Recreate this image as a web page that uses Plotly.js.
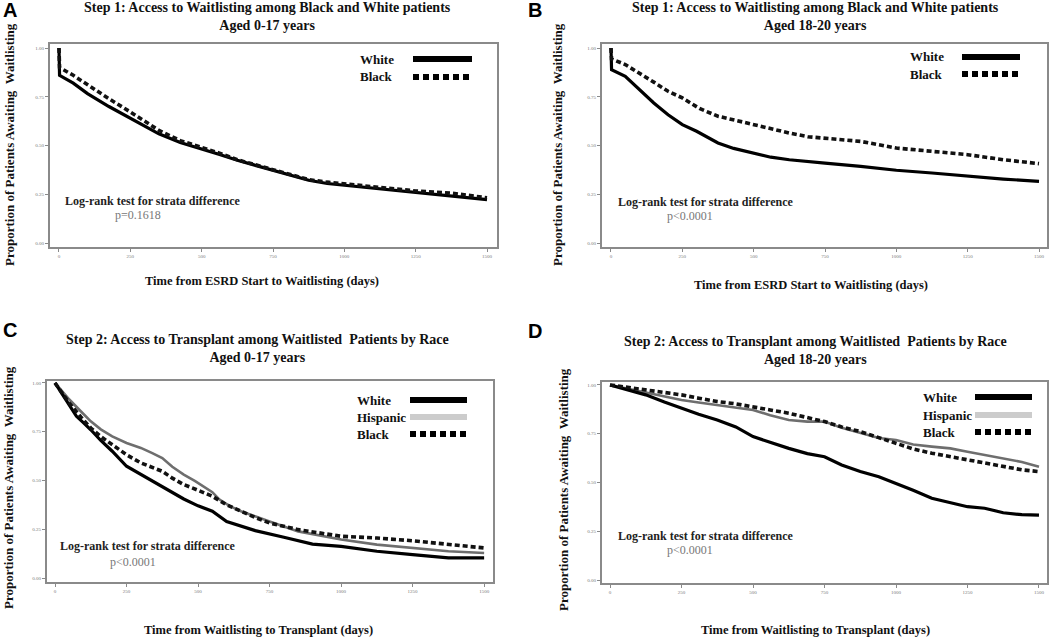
<!DOCTYPE html>
<html>
<head>
<meta charset="utf-8">
<script src="https://cdn.plot.ly/plotly-3.0.1.min.js"></script>
<style>html,body{margin:0;padding:0;background:#fff;}#chart{width:1050px;height:639px;}</style>
</head>
<body>
<div id="chart"></div>
<script>
// ---------- DATA ----------
// Panel A: Step 1, aged 0-17
const daysA_white = [0, 2, 50, 100, 175, 250, 300, 350, 425, 500, 560, 625, 690, 750, 815, 875, 940, 1000, 1125, 1250, 1375, 1440, 1500];
const survA_white = [1.0, 0.86, 0.82, 0.766, 0.70, 0.638, 0.598, 0.56, 0.515, 0.484, 0.455, 0.424, 0.398, 0.373, 0.345, 0.322, 0.305, 0.296, 0.279, 0.262, 0.244, 0.232, 0.222];
const daysA_black = [0, 2, 50, 100, 175, 250, 300, 350, 425, 500, 560, 625, 690, 750, 815, 875, 940, 1000, 1125, 1250, 1375, 1440, 1500];
const survA_black = [1.0, 0.90, 0.86, 0.81, 0.74, 0.672, 0.625, 0.578, 0.525, 0.492, 0.462, 0.427, 0.40, 0.373, 0.347, 0.325, 0.312, 0.304, 0.285, 0.267, 0.256, 0.245, 0.232];

// Panel B: Step 1, aged 18-20
const daysB_white = [0, 2, 50, 100, 150, 200, 250, 300, 340, 375, 430, 500, 560, 625, 690, 750, 875, 1000, 1125, 1250, 1375, 1500];
const survB_white = [1.0, 0.889, 0.855, 0.786, 0.718, 0.658, 0.607, 0.573, 0.54, 0.513, 0.485, 0.462, 0.44, 0.427, 0.417, 0.41, 0.393, 0.373, 0.359, 0.342, 0.328, 0.316];
const daysB_black = [0, 2, 50, 100, 150, 200, 250, 310, 375, 440, 500, 560, 625, 690, 750, 875, 1000, 1125, 1250, 1375, 1500];
const survB_black = [1.0, 0.944, 0.915, 0.872, 0.825, 0.778, 0.744, 0.69, 0.65, 0.628, 0.607, 0.585, 0.564, 0.545, 0.538, 0.521, 0.487, 0.47, 0.453, 0.427, 0.407];

// Panel C: Step 2, aged 0-17
const daysC_white = [0, 25, 50, 75, 100, 125, 160, 200, 250, 300, 375, 450, 500, 550, 600, 650, 700, 800, 900, 1000, 1125, 1250, 1375, 1500];
const survC_white = [1.0, 0.945, 0.889, 0.829, 0.795, 0.76, 0.705, 0.65, 0.573, 0.53, 0.47, 0.405, 0.37, 0.342, 0.29, 0.265, 0.243, 0.209, 0.174, 0.162, 0.137, 0.12, 0.103, 0.103];
const daysC_hisp = [0, 25, 50, 90, 125, 160, 200, 250, 300, 340, 375, 410, 450, 490, 525, 550, 575, 610, 650, 700, 750, 850, 1000, 1125, 1250, 1375, 1500];
const survC_hisp = [1.0, 0.955, 0.915, 0.855, 0.803, 0.762, 0.726, 0.692, 0.667, 0.64, 0.615, 0.57, 0.53, 0.497, 0.462, 0.44, 0.402, 0.37, 0.342, 0.315, 0.29, 0.239, 0.197, 0.171, 0.154, 0.137, 0.128];
const daysC_black = [0, 25, 50, 90, 125, 160, 200, 250, 300, 340, 375, 410, 450, 500, 550, 600, 650, 700, 750, 850, 1000, 1125, 1250, 1375, 1500];
const survC_black = [1.0, 0.95, 0.897, 0.826, 0.769, 0.725, 0.684, 0.632, 0.59, 0.566, 0.547, 0.512, 0.479, 0.45, 0.419, 0.375, 0.34, 0.31, 0.282, 0.248, 0.214, 0.205, 0.191, 0.171, 0.154];

// Panel D: Step 2, aged 18-20
const daysD = [0, 60, 125, 190, 250, 310, 375, 440, 500, 560, 625, 690, 750, 810, 875, 940, 1000, 1060, 1125, 1190, 1250, 1310, 1375, 1440, 1500];
const survD_white = [1.0, 0.975, 0.949, 0.912, 0.88, 0.85, 0.82, 0.785, 0.735, 0.705, 0.675, 0.648, 0.632, 0.59, 0.556, 0.53, 0.496, 0.46, 0.419, 0.395, 0.376, 0.368, 0.345, 0.335, 0.333];
const survD_hisp  = [1.0, 0.982, 0.962, 0.94, 0.923, 0.91, 0.897, 0.885, 0.872, 0.845, 0.82, 0.812, 0.812, 0.78, 0.752, 0.728, 0.718, 0.695, 0.684, 0.675, 0.658, 0.642, 0.624, 0.605, 0.581];
const survD_black = [1.0, 0.988, 0.974, 0.962, 0.949, 0.932, 0.915, 0.903, 0.889, 0.872, 0.855, 0.835, 0.812, 0.785, 0.761, 0.73, 0.701, 0.672, 0.65, 0.632, 0.615, 0.598, 0.581, 0.565, 0.556];

const xTicks = [0, 250, 500, 750, 1000, 1250, 1500];
const yTicks = [0, 0.25, 0.5, 0.75, 1.0];
const yTickText = ['0.00', '0.25', '0.50', '0.75', '1.00'];

const panelTitles = [
  'Step 1: Access to Waitlisting among Black and White patients<br>Aged 0-17 years',
  'Step 1: Access to Waitlisting among Black and White patients<br>Aged 18-20 years',
  'Step 2: Access to Transplant among Waitlisted  Patients by Race<br>Aged 0-17 years',
  'Step 2: Access to Transplant among Waitlisted  Patients by Race<br>Aged 18-20 years'
];
const xTitles = ['Time from ESRD Start to Waitlisting (days)', 'Time from ESRD Start to Waitlisting (days)',
                 'Time from Waitlisting to Transplant (days)', 'Time from Waitlisting to Transplant (days)'];
const yTitle = 'Proportion of Patients Awaiting  Waitlisting';
const pValues = ['p=0.1618', 'p<0.0001', 'p<0.0001', 'p<0.0001'];
const panelLetters = ['A', 'B', 'C', 'D'];

// ---------- STYLE ----------
const W = 1050, H = 639;
const px = v => v / W;
const py = v => 1 - v / H;
const SERIF = "'Liberation Serif', 'DejaVu Serif', serif";
const solidLine = {color: '#000', width: 3.2};
const dashLine = {color: '#111', width: 3.6, dash: '5px,3px'};
const hispLine = {color: '#6e6e6e', width: 2.6};

function tr(x, y, line, ax, name) {
  return {x: x, y: y, type: 'scatter', mode: 'lines', line: line, xaxis: 'x' + ax, yaxis: 'y' + ax,
          name: name, showlegend: false, hoverinfo: 'x+y+name'};
}
const data = [
  tr(daysA_white, survA_white, solidLine, '', 'White'),
  tr(daysA_black, survA_black, dashLine, '', 'Black'),
  tr(daysB_white, survB_white, solidLine, '2', 'White'),
  tr(daysB_black, survB_black, dashLine, '2', 'Black'),
  tr(daysC_hisp, survC_hisp, hispLine, '3', 'Hispanic'),
  tr(daysC_white, survC_white, solidLine, '3', 'White'),
  tr(daysC_black, survC_black, dashLine, '3', 'Black'),
  tr(daysD, survD_hisp, hispLine, '4', 'Hispanic'),
  tr(daysD, survD_white, solidLine, '4', 'White'),
  tr(daysD, survD_black, dashLine, '4', 'Black')
];

const frames = [
  {l: 50, r: 497, t: 44, b: 247, xr: [-31.5, 1535], yr: [-0.0205, 1.0205]},
  {l: 602, r: 1047, t: 44, b: 247, xr: [-31.5, 1528], yr: [-0.0205, 1.0205]},
  {l: 47, r: 493, t: 381, b: 582, xr: [-28, 1531], yr: [-0.0205, 1.01]},
  {l: 602, r: 1047, t: 382, b: 583, xr: [-28, 1528], yr: [-0.015, 1.015]}
];

const layout = {
  width: W, height: H,
  margin: {l: 0, r: 0, t: 0, b: 0},
  paper_bgcolor: '#fff', plot_bgcolor: '#fff',
  showlegend: false,
  annotations: [], shapes: []
};

frames.forEach((f, i) => {
  const s = i === 0 ? '' : String(i + 1);
  layout['xaxis' + s] = {
    domain: [px(f.l), px(f.r)], range: f.xr, anchor: 'y' + s,
    showgrid: false, zeroline: false, showline: true, mirror: true, linecolor: '#8a8a8a', linewidth: 2,
    ticks: 'outside', ticklen: 3, tickwidth: 1, tickcolor: '#8a8a8a',
    tickvals: xTicks, tickfont: {family: SERIF, size: 5, color: '#777'}
  };
  layout['yaxis' + s] = {
    domain: [py(f.b), py(f.t)], range: f.yr, anchor: 'x' + s,
    showgrid: false, zeroline: false, showline: true, mirror: true, linecolor: '#8a8a8a', linewidth: 2,
    ticks: 'outside', ticklen: 3, tickwidth: 1, tickcolor: '#8a8a8a',
    tickvals: yTicks, ticktext: yTickText, tickfont: {family: SERIF, size: 5, color: '#777'}
  };
});

const titlePos = [[267, 16], [815, 16], [257, 348], [815, 350]];
const xTitlePos = [[262, 281], [811, 285], [258, 630], [815, 630]];
const yTitlePos = [[10, 145], [558, 145], [8, 488], [563, 490]];
const letterPos = [[1, 10], [526, 10], [1, 330], [526, 331]];
const logrankPos = [[63, 201], [616, 202], [58, 546], [616, 536]];
const pPos = [[113, 215], [665, 216], [108, 562], [665, 550]];

function ann(x, y, text, font, opts) {
  return Object.assign({xref: 'paper', yref: 'paper', x: px(x), y: py(y), text: text, showarrow: false,
    font: font, xanchor: 'center', yanchor: 'middle'}, opts || {});
}

for (let i = 0; i < 4; i++) {
  layout.annotations.push(ann(titlePos[i][0], titlePos[i][1], '<b>' + panelTitles[i].replace('<br>', '</b><br><b>') + '</b>',
    {family: SERIF, size: 14, color: '#111'}));
  layout.annotations.push(ann(xTitlePos[i][0], xTitlePos[i][1], '<b>' + xTitles[i] + '</b>', {family: SERIF, size: 12.5, color: '#111'}));
  layout.annotations.push(ann(yTitlePos[i][0], yTitlePos[i][1], '<b>' + yTitle + '</b>', {family: SERIF, size: 13, color: '#111'}, {textangle: -90}));
  layout.annotations.push(ann(letterPos[i][0], letterPos[i][1], '<b>' + panelLetters[i] + '</b>',
    {family: "'Liberation Sans', Arial, sans-serif", size: 20, color: '#000'}, {xanchor: 'left'}));
  layout.annotations.push(ann(logrankPos[i][0], logrankPos[i][1], '<b>Log-rank test for strata difference</b>',
    {family: SERIF, size: 12, color: '#222'}, {xanchor: 'left'}));
  layout.annotations.push(ann(pPos[i][0], pPos[i][1], pValues[i], {family: SERIF, size: 12, color: '#777'}, {xanchor: 'left'}));
}

const legends = [
  {tx: 358, l0: 413, l1: 472, rows: [['White', 59, 'solid'], ['Black', 77, 'dash']]},
  {tx: 908, l0: 962, l1: 1020, rows: [['White', 57, 'solid'], ['Black', 74, 'dash']]},
  {tx: 355, l0: 410, l1: 467, rows: [['White', 400, 'solid'], ['Hispanic', 417, 'gray'], ['Black', 434, 'dash']]},
  {tx: 921, l0: 975, l1: 1032, rows: [['White', 397, 'solid'], ['Hispanic', 415, 'gray'], ['Black', 432, 'dash']]}
];
const legStyles = {
  solid: {color: '#000', width: 6},
  gray: {color: '#cccccc', width: 6},
  dash: {color: '#000', width: 6, dash: '6px,4px'}
};
legends.forEach(g => {
  g.rows.forEach(r => {
    layout.annotations.push(ann(g.tx, r[1], '<b>' + r[0] + '</b>', {family: SERIF, size: 13, color: '#111'}, {xanchor: 'left'}));
    layout.shapes.push({type: 'line', xref: 'paper', yref: 'paper', x0: px(g.l0), x1: px(g.l1), y0: py(r[1]), y1: py(r[1]),
      line: legStyles[r[2]]});
  });
});

Plotly.newPlot('chart', data, layout, {displayModeBar: false, staticPlot: true});
</script>
</body>
</html>
